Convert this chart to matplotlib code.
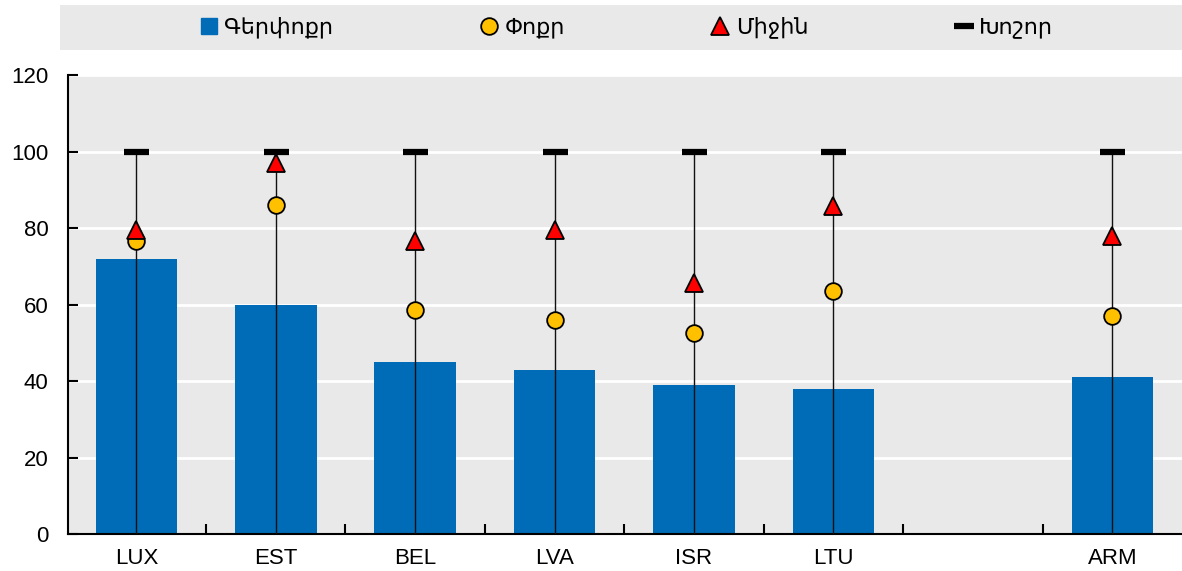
import matplotlib
matplotlib.use("Agg")
import matplotlib.pyplot as plt
from matplotlib.lines import Line2D
import numpy as np

plt.rcParams['font.family'] = ['Liberation Sans Narrow', 'Liberation Sans', 'DejaVu Sans']

# data
countries = ["LUX", "EST", "BEL", "LVA", "ISR", "LTU", "", "ARM"]
gerpokr = [72, 60, 45, 43, 39, 38, None, 41]      # bars
pokr = [76.5, 86, 58.5, 56, 52.5, 63.5, None, 57]  # circles
mijin = [79.5, 97, 76.5, 79.5, 65.5, 85.8, None, 78]  # triangles
khoshor = [100, 100, 100, 100, 100, 100, None, 100]  # dash
legend_labels = ["Գերփոքր", "Փոքր", "Միջին", "Խոշոր"]

blue = "#006BB6"
yellow = "#FFC000"
red = "#FF0000"
bg = "#E9E9E9"

fig = plt.figure(figsize=(11.82, 5.71), dpi=100)
ax = fig.add_axes([68/1182, 37/571, 1 - 68/1182, (534-75)/571])
ax.set_facecolor(bg)

x = np.arange(len(countries))
idx = [i for i, v in enumerate(gerpokr) if v is not None]
xs = x[idx]

ax.bar(xs, [gerpokr[i] for i in idx], width=0.585, color=blue, zorder=2)
ax.vlines(xs, 0, [khoshor[i] for i in idx], color="#111111", lw=1.0, zorder=3)
ax.plot(xs, [khoshor[i] for i in idx], ls="none", marker="_", ms=18, mew=4.5,
        color="black", zorder=4)
ax.plot(xs, [pokr[i] for i in idx], ls="none", marker="o", ms=12, mfc=yellow,
        mec="black", mew=1.3, zorder=5)
ax.plot(xs, [mijin[i] for i in idx], ls="none", marker="^", ms=13, mfc=red,
        mec="black", mew=1.3, zorder=6)

ax.set_ylim(0, 120)
ax.set_xlim(-0.49, 7.5)
ax.set_yticks(range(0, 121, 20))
ax.yaxis.grid(True, color="white", lw=2)
ax.set_axisbelow(True)
ax.set_xticks(x)
ax.set_xticklabels(countries)
ax.set_xticks(np.arange(0.5, 7, 1), minor=True)
ax.tick_params(axis="x", which="major", length=0, labelsize=16, pad=10)
ax.tick_params(axis="x", which="minor", direction="in", length=7, width=1.5)
ax.tick_params(axis="y", direction="in", length=7, width=1.5, labelsize=16, pad=14)
for s in ["top", "right"]:
    ax.spines[s].set_visible(False)
ax.spines["left"].set_linewidth(1.5)
ax.spines["bottom"].set_linewidth(1.5)

# legend band
lax = fig.add_axes([60/1182, 1 - 50/571, 1 - 60/1182, 45/571])
lax.set_facecolor(bg)
lax.set_xticks([])
lax.set_yticks([])
for s in lax.spines.values():
    s.set_visible(False)
handles = [
    Line2D([], [], ls="none", marker="s", ms=11, mfc=blue, mec=blue),
    Line2D([], [], ls="none", marker="o", ms=12, mfc=yellow, mec="black", mew=1.3),
    Line2D([], [], ls="none", marker="^", ms=13, mfc=red, mec="black", mew=1.3),
    Line2D([], [], ls="none", marker="_", ms=14, mew=4.5, color="black"),
]
lax.legend(handles, legend_labels, ncol=4, loc="center", bbox_to_anchor=(0.505, 0.5),
           frameon=False, fontsize=16, handlelength=0.8, handletextpad=0.3,
           columnspacing=6.6)

fig.savefig("out.png", dpi=100)
